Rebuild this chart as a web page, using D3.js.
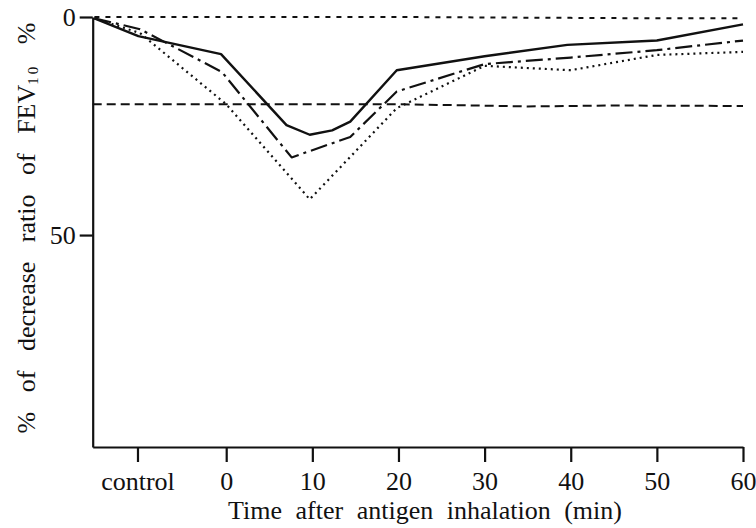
<!DOCTYPE html>
<html>
<head>
<meta charset="utf-8">
<script src="https://cdn.jsdelivr.net/npm/d3@7"></script>
<style>
  body { margin: 0; background: #fff; }
  svg { display: block; font-family: "Liberation Serif", "DejaVu Serif", serif; }
</style>
</head>
<body>
<div id="chart-container"></div>
<script>
// Data: [time (min), % decrease]
const seriesSolid = [[-15.3, 0.3], [-10.2, 4.4], [-0.6, 8.5], [7, 24.8], [9.7, 27], [12.3, 26], [14.4, 24], [19.8, 12.2], [30, 9], [39.6, 6.4], [50, 5.4], [60, 1.7]];
const seriesDashDot = [[-15.3, 0.3], [-10, 2.8], [-0.5, 12.6], [7.6, 32.2], [14.4, 27.5], [19.8, 17.1], [30, 10.8], [40, 9.3], [50, 7.6], [60, 5.4]];
const seriesDotted = [[-15.3, 0.3], [-10, 3.7], [0, 20], [9.7, 41.8], [19.8, 20.9], [30, 11.2], [40, 12.2], [50, 8.7], [60, 8]];
const seriesBaseline = [[-15.3, 0], [0, 0], [20, 0], [40, 0.2], [50, 0.3], [60, 0.3]];
const seriesThreshold = [[-15.5, 20], [0, 20], [20, 20], [35, 20.5], [45, 20.3], [60, 20.4]];

const xTickValues = [-10.3, 0, 10, 20, 30, 40, 50, 60];
const xTickLabels = ["control", "0", "10", "20", "30", "40", "50", "60"];
const yTickValues = [0, 50];

document.addEventListener("DOMContentLoaded", function () {
  var width = 756, height = 528;
  var ink = "#111";
  var serif = '"Liberation Serif", "DejaVu Serif", serif';

  var svg = d3.select("#chart-container").append("svg")
    .attr("width", width)
    .attr("height", height);

  var x = d3.scaleLinear().domain([-15.5, 60]).range([92.7, 743]);
  var y = d3.scaleLinear().domain([0, 98.6]).range([17, 447]);

  // x axis
  var xAxis = d3.axisBottom(x)
    .tickValues(xTickValues)
    .tickFormat((d, i) => xTickLabels[i])
    .tickSize(15)
    .tickSizeOuter(0)
    .tickPadding(10);

  var gx = svg.append("g")
    .attr("transform", `translate(0,${y(98.6)})`)
    .call(xAxis);

  // y axis
  var yAxis = d3.axisLeft(y)
    .tickValues(yTickValues)
    .tickSize(13)
    .tickSizeOuter(0)
    .tickPadding(4);

  var gy = svg.append("g")
    .attr("transform", `translate(${x(-15.5)},0)`)
    .call(yAxis);

  [gx, gy].forEach(function (g) {
    g.attr("font-family", serif).attr("font-size", 26);
    g.selectAll("path, line").attr("stroke", ink).attr("stroke-width", 2.2);
    g.selectAll("text").attr("fill", ink);
  });

  // axis titles
  svg.append("text")
    .attr("x", 425)
    .attr("y", 519)
    .attr("text-anchor", "middle")
    .style("font-size", "26px")
    .style("word-spacing", "7px")
    .attr("fill", ink)
    .text("Time after antigen inhalation (min)");

  var yTitle = svg.append("text")
    .attr("transform", "translate(35,228) rotate(-90)")
    .attr("text-anchor", "middle")
    .style("font-size", "26px")
    .style("word-spacing", "13px")
    .attr("fill", ink);
  yTitle.append("tspan").text("% of decrease ratio of FEV");
  yTitle.append("tspan").attr("baseline-shift", "-20%").style("font-size", "15px")
    .style("letter-spacing", "3px").text("10");
  yTitle.append("tspan").text(" %");

  var line = d3.line()
    .x((d) => x(d[0]))
    .y((d) => y(d[1]));

  function drawSeries(data, dash, w) {
    svg.append("path")
      .datum(data)
      .attr("fill", "none")
      .attr("stroke", ink)
      .attr("stroke-width", w)
      .attr("stroke-linejoin", "round")
      .attr("stroke-dasharray", dash)
      .attr("d", line);
  }

  drawSeries(seriesBaseline, "5,6", 2);
  drawSeries(seriesThreshold, "9,5", 2);
  drawSeries(seriesDotted, "2,4", 2.2);
  drawSeries(seriesDashDot, "17,5,3,5", 2.2);
  drawSeries(seriesSolid, null, 2.4);
});
</script>
</body>
</html>
